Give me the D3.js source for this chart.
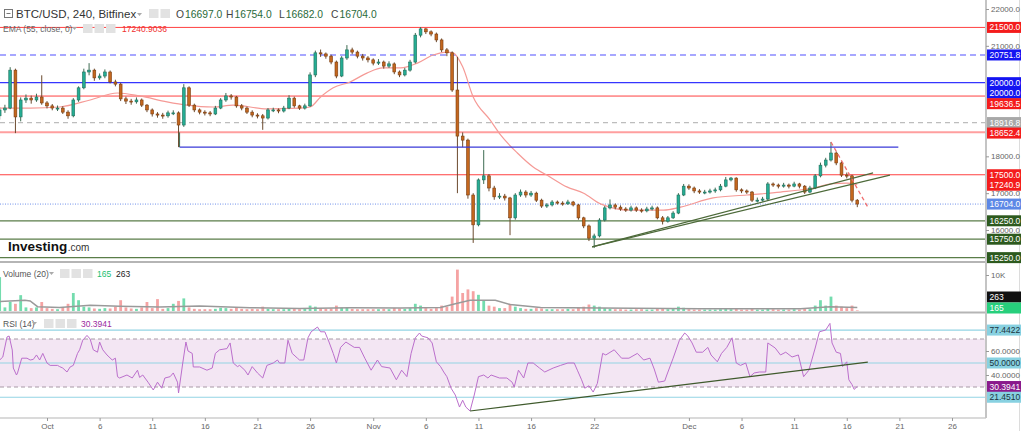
<!DOCTYPE html>
<html><head><meta charset="utf-8">
<script src="https://cdn.jsdelivr.net/npm/d3@7"></script>
<style>html,body{margin:0;padding:0;background:#fff;overflow:hidden}text{font-family:'Liberation Sans',Arial,sans-serif}</style>
</head><body><svg id="c" width="1024" height="431"></svg>
<script>
// ---------- DATA ----------
// 12h candles starting 2022-09-26 12:00 UTC (day offset -4.5 from Oct 1)
const candleStartDay = -4.5, candleStepDays = 0.5;
const firstOpen = 19100;
const closes = [19260,19310,20340,19070,19530,19580,19530,19610,19450,19370,
 19310,19310,19200,19100,19530,19860,20290,20340,20130,20180,
 20290,20020,19960,19560,19500,19480,19530,19390,19260,19150,
 19120,19100,19180,19180,18850,19860,19390,19260,19200,19180,
 19150,19310,19530,19640,19610,19370,19310,19200,19120,19100,
 19040,19260,19260,19230,19310,19580,19370,19310,19370,20210,
 20810,20780,20720,20560,20180,20670,20890,20830,20720,20670,
 20620,20530,20560,20450,20510,20290,20210,20340,20560,21290,
 21460,21380,21320,21160,20890,20810,19800,18550,18440,16950,
 16140,17360,17470,17140,16900,16920,16870,16330,16950,17030,
 16950,17000,16810,16650,16680,16760,16730,16710,16760,16680,
 16330,16110,15780,15840,16270,16600,16680,16620,16570,16540,
 16600,16540,16520,16570,16600,16330,16240,16330,16460,16950,
 17190,17140,17060,17030,17030,17060,17090,17190,17360,17410,
 17090,17060,17030,16810,16810,16840,17250,17220,17190,17220,
 17190,17250,17190,17030,17140,17470,17760,17900,18090,17820,
 17490,17470,16810,16704];
const highs = [19330,19400,20420,20380,19600,19680,19650,19700,20200,19500,
 19420,19380,19360,19250,19580,19900,20380,20530,20380,20250,
 20360,20330,20080,20000,19620,19560,19600,19570,19420,19300,
 19200,19180,19240,19250,19220,19960,19900,19430,19300,19250,
 19230,19370,19580,19720,19690,19640,19420,19350,19250,19170,
 19150,19310,19320,19300,19370,19660,19620,19400,19430,20280,
 20870,20900,20820,20760,20600,20720,21020,20950,20870,20780,
 20720,20660,20640,20600,20580,20550,20330,20400,20620,21350,
 21510,21480,21420,21360,21200,20940,20850,20700,18650,18480,
 17000,17400,18170,17520,17200,17000,16980,16900,17000,17100,
 17080,17060,17040,16850,16730,16810,16800,16780,16820,16790,
 16710,16360,16150,15900,16320,16650,16830,16720,16670,16620,
 16660,16640,16590,16630,16660,16640,16380,16380,16510,17000,
 17250,17240,17180,17110,17090,17120,17150,17250,17440,17440,
 17430,17130,17100,17060,16880,16900,17300,17290,17260,17280,
 17260,17310,17280,17220,17200,17520,17830,17960,18390,18130,
 17860,17560,17500,16840];
const lows = [19000,19180,19280,18630,18950,19450,19430,19480,19400,19300,
 19250,19230,19150,19020,19060,19480,19820,20200,20050,20080,
 20120,19980,19900,19500,19420,19400,19430,19340,19200,19080,
 19050,19020,19050,19120,18250,18800,19340,19200,19140,19110,
 19090,19120,19280,19480,19540,19320,19250,19150,19060,19030,
 18720,19000,19200,19170,19190,19280,19320,19260,19270,19340,
 20150,20700,20650,20500,20120,20150,20620,20770,20660,20600,
 20550,20470,20480,20380,20400,20230,20150,20170,20300,20520,
 21230,21320,21260,21100,20830,20720,19750,17000,18250,16850,
 15650,16100,17250,17050,16820,16840,16800,15860,16280,16900,
 16880,16900,16760,16600,16600,16640,16690,16660,16680,16640,
 16280,16050,15700,15510,15800,16230,16560,16560,16520,16490,
 16500,16490,16470,16480,16530,16290,16150,16200,16300,16430,
 16920,17090,17000,16980,16970,16990,17010,17050,17160,17320,
 17040,17000,16980,16760,16750,16770,16800,17170,17130,17150,
 17130,17160,17130,16980,17000,17110,17430,17700,17860,17760,
 17440,17400,16750,16620];
const volumes = [9400,1000,2500,2000,4400,1000,800,1000,2500,800,
 600,500,1000,2000,5000,3000,1200,1000,700,600,
 800,700,1200,3000,1000,700,600,1000,2500,800,
 3300,600,800,2000,2800,3500,1000,600,500,500,
 500,600,900,800,600,1000,600,500,600,500,
 1200,600,500,500,500,800,600,500,600,1500,
 1200,800,600,700,1500,900,1000,600,500,500,
 500,500,500,600,500,800,700,600,800,2000,
 1500,800,600,800,1500,1200,4000,11500,5000,6000,
 5500,4500,3000,1500,1200,800,800,2000,1200,800,
 600,600,800,700,500,500,500,500,600,500,
 1000,1200,1800,1500,1200,800,600,500,500,400,
 400,500,500,400,400,800,800,500,600,1200,
 900,500,400,400,400,400,400,500,700,500,
 600,400,400,600,400,400,800,500,400,400,
 400,500,400,600,500,1500,3000,1500,4000,1500,
 1200,800,1500,165];
// EMA(55) (day offsets from 2022-10-01)
const emaDays = [-4.5,-1.6,1.2,4.1,6.7,8.8,11.4,13.3,15.8,17.7,20.9,24.0,25.0,26.0,27.2,28.8,30.4,31.9,33.6,35.2,36.7,38.0,38.6,39.5,40.5,42.1,43.1,44.7,46.2,47.8,49.4,51.0,52.6,55.4,58.6,60.2,63.3,66.5,69.7,72.8,74.7,76.0,77.0];
const emaValues = [19310,19310,19340,19530,19720,19640,19480,19390,19340,19390,19290,19310,19340,19610,19860,20020,20260,20400,20400,20530,20750,20830,20810,20430,19610,18990,18580,18090,17710,17440,17170,17000,16710,16540,16540,16620,16870,16950,17030,17140,17260,17275,17241];
// Volume MA(20)
const volMaDays = [-4.5,-2.1,-1.6,-0.9,1.2,4.1,6.9,10.7,14.5,19.3,24.0,28.8,33.6,37.4,38.8,40.2,42.6,44.0,46.9,52.6,62.1,71.6,74.4,77.0];
const volMaValues = [2600,3000,2800,1200,1000,1600,1300,1100,1400,900,700,900,800,1000,2000,3000,3000,1800,1000,800,600,600,1200,1000];
// RSI(14)
const rsiDays = [-4.5,-4.2,-3.8,-3.6,-3.3,-3.2,-2.9,-2.8,-2.4,-1.9,
 -1.6,-1.3,-1.0,-0.7,-0.4,0,0.3,1.0,1.2,1.5,
 1.9,2.2,2.5,2.9,3.1,3.4,3.8,4.1,4.4,4.8,
 5.0,5.3,5.7,6.2,6.5,6.7,6.9,7.6,8.1,8.6,
 8.8,9.1,9.6,10.1,10.5,10.9,11.2,11.7,12.0,12.4,
 12.5,12.9,13.2,13.4,13.8,13.9,14.5,15.2,15.7,16.0,
 16.4,17.1,17.4,17.7,18.1,18.3,18.8,19.1,19.5,20.0,
 20.5,20.9,21.5,21.9,22.1,22.6,22.9,23.3,23.8,24.0,
 24.4,24.8,25.1,25.7,26.0,26.4,26.8,27.2,27.5,27.9,
 28.4,29.2,29.7,30.2,30.8,31.4,31.8,32.6,33.2,33.7,
 34.2,34.6,35.0,35.4,35.6,36.2,36.6,37.0,37.4,37.7,
 38.0,38.4,38.8,39.2,39.5,39.8,40.2,40.6,41.0,41.5,
 41.9,42.2,43.0,43.7,44.2,44.4,44.8,45.3,45.7,46.2,
 46.8,47.3,48.1,48.8,49.5,50.1,50.4,50.8,51.1,51.5,
 51.9,52.3,52.8,53.1,53.9,54.6,55.3,56.1,56.7,57.3,
 57.7,58.1,58.7,58.9,59.5,60.1,60.6,60.9,61.3,61.7,
 62.3,62.8,63.1,63.7,64.1,64.6,65.1,65.5,65.9,66.4,
 66.8,67.2,67.7,68.3,68.5,69.2,69.7,70.2,70.8,71.4,
 71.9,72.4,73.0,73.4,74.0,74.4,74.6,75.0,75.4,75.6,
 75.7,76.0,76.2,76.5,76.7,77.0];
const rsiValues = [52.5,55,71.7,72.5,60.8,45.8,40,41.7,54,54,
 52.5,53,56.7,52.5,58,50,48,48,47,45.8,
 42.5,46.7,48,58,61,69,73,70,61,59,
 67.5,61,56.7,52.5,54,38.6,37.5,40,37.5,44,
 38,40,34,27.5,34,29,37.5,38.6,41.7,34,
 25,50,67.5,60,58,46.7,46.7,44,45.8,58,
 61,62,66.7,50,47,48,44,40,47,41.7,
 37.5,48,50,52.5,50,50,69,58,54,52.5,
 52.5,71,76,80,76,76,67.5,58,50,63,
 67.5,63,63,54,44,52.5,47,45.8,36,44,
 38.6,58,71,75,72.5,71,66.7,51,47,42.5,
 38.6,29,23.3,13.3,19,13.3,10,23.3,38.6,40,
 37.5,40,37.5,37.5,34,30,44,37.5,50,50,
 45.8,42.5,45.8,48,50,50,44,36,29,31,
 25.8,33,58,56.7,61,54,54,58,52.5,54,
 45,34,35,40,54,69,75,72.5,66.7,59,
 59,63,56.7,51,58,63,71,50,48,50,
 38.6,41.7,42.5,42.5,66.7,62.5,56.7,59,55,56.7,
 38.6,44,62.5,76,77.5,83,66.7,59,58,47,
 48,51,36,32,28,30.4];
// horizontal price levels
const levelValues = [21500, 20751.8, 20000, 19636.5, 18916.8, 18652.4, 17500, 16704, 16250, 15750, 15250];
const levelKinds  = ["red","blueDash","blue","red","grayDash","pink","red","dot","green","green","green"];
// drawn trend lines: [day, value] endpoints
const trendA = [[51.8,15540],[78.5,17550]];
const trendB = [[51.8,15540],[80.1,17490]];
const redDash = [[74.5,18390],[78.0,16620]];
const blueSeg = [[12.6,18250],[80.9,18250]];
const rsiTrend = [[40.2,10],[78.0,50.8]];
// axis ticks
const tickDays = [0,5,10,15,20,25,31,36,41,46,52,61,66,71,76,81,86];
const tickLabels = ["Oct","6","11","16","21","26","Nov","6","11","16","22","Dec","6","11","16","21","26"];
const priceTicks = [22000,21000,18000,17000,16000];
const rsiTicks = [60,40];
const rsiLevels = [77.4422, 50, 21.4510];
const rsiBand = [30, 70];
const header = {sym:"BTC/USD, 240, Bitfinex", O:"16697.0", H:"16754.0", L:"16682.0", C:"16704.0", ema:"17240.9036", vol:"165", volMa:"263", rsi:"30.3941"};

// ---------- SETUP ----------
const DAY = 86400000, t0 = Date.UTC(2022,9,1);
const dd = d => new Date(t0 + d*DAY);
const svg = d3.select("#c");
const PR = 986;
const x = d3.scaleUtc().domain([dd(0), dd(86)]).range([47, 952]);
const yP = d3.scaleLinear().domain([16000, 22000]).range([230, 9]);
const yV = d3.scaleLinear().domain([0, 10000]).range([311, 275]);
const yR = d3.scaleLinear().domain([0, 100]).range([423, 303]);

const candles = closes.map((c,i)=>({date: dd(candleStartDay + i*candleStepDays), o: i ? closes[i-1] : firstOpen, h: highs[i], l: lows[i], c, v: volumes[i]}));

const defs = svg.append("defs");
defs.append("clipPath").attr("id","cm").append("rect").attr("x",0).attr("y",0).attr("width",PR).attr("height",261);
defs.append("clipPath").attr("id","cv").append("rect").attr("x",0).attr("y",264).attr("width",PR).attr("height",48);
defs.append("clipPath").attr("id","cr").append("rect").attr("x",0).attr("y",314).attr("width",PR).attr("height",104);

// ---------- MAIN PANEL ----------
const gm = svg.append("g").attr("clip-path","url(#cm)");
const kindStyle = {
  red:{c:"#ff4040",w:1,d:null}, blueDash:{c:"#8a8aff",w:1.6,d:"6,4"}, blue:{c:"#3535ff",w:1.2,d:null},
  grayDash:{c:"#bdbdbd",w:1.3,d:"5,4"}, pink:{c:"#ff9f9f",w:2,d:null}, dot:{c:"#7090ea",w:1,d:"1,1.5"},
  green:{c:"#5a7d48",w:1.2,d:null}
};
levelValues.forEach((v,i)=>{
  const s = kindStyle[levelKinds[i]];
  gm.append("line").attr("x1",0).attr("x2",PR).attr("y1",yP(v)).attr("y2",yP(v))
    .attr("stroke",s.c).attr("stroke-width",s.w).attr("stroke-dasharray",s.d);
});
// EMA
gm.append("path").datum(emaDays.map((d,i)=>[d,emaValues[i]]))
  .attr("fill","none").attr("stroke","#f59a96").attr("stroke-width",1.2)
  .attr("d", d3.line().x(p=>x(dd(p[0]))).y(p=>yP(p[1])).curve(d3.curveMonotoneX));
// candles
const bw = 2.8;
const cg = gm.append("g").selectAll("g").data(candles).join("g");
cg.append("line").attr("x1",d=>x(d.date)).attr("x2",d=>x(d.date)).attr("y1",d=>yP(d.h)).attr("y2",d=>yP(d.l))
  .attr("stroke",d=>d.c>=d.o?"#3d6b52":"#6b4a2e").attr("stroke-width",1);
cg.append("rect").attr("x",d=>x(d.date)-bw/2).attr("width",bw)
  .attr("y",d=>yP(Math.max(d.o,d.c))).attr("height",d=>Math.max(1,Math.abs(yP(d.o)-yP(d.c))))
  .attr("fill",d=>d.c>=d.o?"#25ad94":"#c4671e").attr("stroke",d=>d.c>=d.o?"#23705c":"#7a3d10").attr("stroke-width",0.6);
// drawings
const seg = (g, p, col, w, dash, sy) => g.append("line").attr("x1",x(dd(p[0][0]))).attr("y1",sy(p[0][1]))
  .attr("x2",x(dd(p[1][0]))).attr("y2",sy(p[1][1])).attr("stroke",col).attr("stroke-width",w).attr("stroke-dasharray",dash);
seg(gm, blueSeg, "#3a3ad8", 1.2, null, yP);
gm.append("line").attr("x1",x(dd(blueSeg[0][0]))).attr("x2",x(dd(blueSeg[0][0]))).attr("y1",yP(18650)).attr("y2",yP(18250)).attr("stroke","#3d6b52");
seg(gm, trendA, "#4d6a3a", 1.2, null, yP);
seg(gm, trendB, "#4d6a3a", 1.2, null, yP);
seg(gm, redDash, "#f07070", 1.3, "4,3", yP);

// Investing logo
const logo = svg.append("text").attr("x",8).attr("y",251).text("Investing").attr("fill","#111").style("font-size","13.5px").style("font-weight","bold");
const lw = logo.node().getComputedTextLength();
svg.append("text").attr("x",8+lw+0.5).attr("y",251).text(".com").attr("fill","#333").style("font-size","10px");

// ---------- VOLUME PANEL ----------
const gv = svg.append("g").attr("clip-path","url(#cv)");
gv.selectAll("rect").data(candles).join("rect")
  .attr("x",d=>x(d.date)-bw/2).attr("width",bw).attr("y",d=>yV(d.v)).attr("height",d=>yV(0)-yV(d.v))
  .attr("fill",d=>d.c>=d.o?"#74dcae":"#f5a3a3");
gv.append("path").datum(volMaDays.map((d,i)=>[d,volMaValues[i]])).attr("fill","none").attr("stroke","#9a9a9a").attr("stroke-width",1.5)
  .attr("d", d3.line().x(p=>x(dd(p[0]))).y(p=>yV(p[1])));

// ---------- RSI PANEL ----------
const gr = svg.append("g").attr("clip-path","url(#cr)");
gr.append("rect").attr("x",0).attr("width",PR).attr("y",yR(rsiBand[1])).attr("height",yR(rsiBand[0])-yR(rsiBand[1])).attr("fill","#f3e6f3");
rsiBand.forEach(v=>gr.append("line").attr("x1",0).attr("x2",PR).attr("y1",yR(v)).attr("y2",yR(v)).attr("stroke","#a89aa6").attr("stroke-dasharray","4,3"));
rsiLevels.forEach(v=>gr.append("line").attr("x1",0).attr("x2",PR).attr("y1",yR(v)).attr("y2",yR(v)).attr("stroke","#93d4e4").attr("stroke-width",1.2));
gr.append("path").datum(rsiDays.map((d,i)=>[d,rsiValues[i]])).attr("fill","none").attr("stroke","#bb6fcc").attr("stroke-width",1)
  .attr("d", d3.line().x(p=>x(dd(p[0]))).y(p=>yR(p[1])));
seg(gr, rsiTrend, "#3f5a2c", 1.2, null, yR);

// ---------- FRAME ----------
svg.append("line").attr("x1",0).attr("x2",PR).attr("y1",262).attr("y2",262).attr("stroke","#b5b5b5").attr("stroke-width",2);
svg.append("line").attr("x1",0).attr("x2",PR).attr("y1",312.5).attr("y2",312.5).attr("stroke","#b5b5b5").attr("stroke-width",2);
svg.append("line").attr("x1",0).attr("x2",PR).attr("y1",418).attr("y2",418).attr("stroke","#b5b5b5").attr("stroke-width",1);
svg.append("line").attr("x1",PR).attr("x2",PR).attr("y1",0).attr("y2",418).attr("stroke","#c4c4c4").attr("stroke-width",2);
svg.append("line").attr("x1",1019.5).attr("x2",1019.5).attr("y1",0).attr("y2",431).attr("stroke","#dcdcdc").attr("stroke-width",1);

// ---------- AXES ----------
const styleAxis = g => { g.select(".domain").remove(); g.selectAll("line").attr("stroke","#999");
  g.selectAll("text").attr("fill","#666").style("font-size","8px").style("font-family","'Liberation Sans',Arial,sans-serif"); };
svg.append("g").attr("transform","translate(0,418)")
  .call(d3.axisBottom(x).tickValues(tickDays.map(dd)).tickFormat((d,i)=>tickLabels[i]).tickSize(3).tickPadding(2))
  .call(styleAxis);
svg.append("g").attr("transform",`translate(${PR},0)`)
  .call(d3.axisRight(yP).tickValues(priceTicks).tickFormat(d3.format(".1f")).tickSize(3).tickPadding(2)).call(styleAxis);
svg.append("g").attr("transform",`translate(${PR},0)`)
  .call(d3.axisRight(yV).tickValues([10000]).tickFormat(d=>d/1000+"K").tickSize(3).tickPadding(2)).call(styleAxis);
svg.append("g").attr("transform",`translate(${PR},0)`)
  .call(d3.axisRight(yR).tickValues(rsiTicks).tickFormat(d3.format(".4f")).tickSize(3).tickPadding(2)).call(styleAxis);

// ---------- AXIS VALUE BOXES ----------
const boxColors = {red:["#f41c1c","#fff"], blue:["#1414f2","#fff"], gray:["#a8a8a8","#fff"], cf:["#5d88e6","#fff"],
  green:["#2d5a1e","#fff"], lb:["#88d1e1","#1c3440"], purple:["#8a1a8c","#fff"], black:["#111","#fff"], vgreen:["#27cf7c","#fff"]};
function box(yc, text, kind){
  const [bg,fg] = boxColors[kind];
  const g = svg.append("g").attr("transform",`translate(${PR+1},${yc})`);
  g.append("rect").attr("x",0).attr("y",-5.5).attr("width",34).attr("height",11).attr("fill",bg);
  g.append("text").attr("x",2.5).attr("y",0).attr("dy","0.36em").text(text).attr("fill",fg).style("font-size","8.5px");
}
const mainBoxes = [[21500,"21500.0","red"],[20751.8,"20751.8","blue"],[20000,"20000.0","blue"],[20000,"20000.0","blue"],
  [19636.5,"19636.5","red"],[18916.8,"18916.8","gray"],[18652.4,"18652.4","red"],[17500,"17500.0","red"],
  [17240.9,"17240.9","red"],[16704,"16704.0","cf"],[16250,"16250.0","green"],[15750,"15750.0","green"],[15250,"15250.0","green"]];
let prevY = -100;
mainBoxes.map(b=>({y:yP(b[0]),t:b[1],k:b[2]})).sort((a,b)=>a.y-b.y).forEach(b=>{
  const yy = Math.max(b.y, prevY + 10.5); prevY = yy; box(yy, b.t, b.k);
});
const y165 = Math.min(yV(+header.vol), 308);
box(Math.min(yV(+header.volMa), y165 - 11), header.volMa, "black");
box(y165, header.vol, "vgreen");
box(yR(77.4422),"77.4422","lb");
box(yR(50),"50.0000","lb");
box(yR(+header.rsi),header.rsi,"purple");
box(yR(21.4510),"21.4510","lb");

// ---------- HEADERS ----------
function icons(x0, y0, n){
  for(let i=0;i<n;i++) svg.append("rect").attr("x",x0+i*11.5).attr("y",y0).attr("width",9.5).attr("height",9).attr("fill","#e2e2e2");
}
function caret(x0, y0){ svg.append("path").attr("d",`M${x0},${y0} l5,0 l-2.5,3 z`).attr("fill","#aaa"); }
svg.append("rect").attr("x",4.5).attr("y",9.5).attr("width",8).attr("height",8).attr("fill","none").attr("stroke","#777");
svg.append("line").attr("x1",6.5).attr("x2",10.5).attr("y1",13.5).attr("y2",13.5).attr("stroke","#777");
svg.append("text").attr("x",16).attr("y",18).text(header.sym).attr("fill","#333").style("font-size","11.5px");
caret(137,13); icons(149,9,2);
const ohlc = [["O",header.O,176],["H",header.H,226],["L",header.L,279],["C",header.C,331]];
ohlc.forEach(([k,v,xx])=>{
  const t = svg.append("text").attr("x",xx).attr("y",18).style("font-size","10.3px");
  t.append("tspan").text(k).attr("fill","#444");
  t.append("tspan").text(v).attr("fill","#2a6a3a").attr("dx",1);
});
svg.append("text").attr("x",3).attr("y",31.5).text("EMA (55, close, 0)").attr("fill","#666").style("font-size","8.5px");
caret(72,27); icons(83,24,3);
svg.append("text").attr("x",122).attr("y",31.5).text(header.ema).attr("fill","#f03030").style("font-size","8.5px");
svg.append("text").attr("x",3).attr("y",277).text("Volume (20)").attr("fill","#555").style("font-size","8.5px");
caret(49,272); icons(60,269,3);
svg.append("text").attr("x",97).attr("y",277).text(header.vol).attr("fill","#20c070").style("font-size","8.5px");
svg.append("text").attr("x",116).attr("y",277).text(header.volMa).attr("fill","#222").style("font-size","8.5px");
svg.append("text").attr("x",3).attr("y",327).text("RSI (14)").attr("fill","#555").style("font-size","8.5px");
caret(32,322); icons(44,319,3);
svg.append("text").attr("x",81).attr("y",327).text(header.rsi).attr("fill","#9a2aa0").style("font-size","8.5px");
</script></body></html>
